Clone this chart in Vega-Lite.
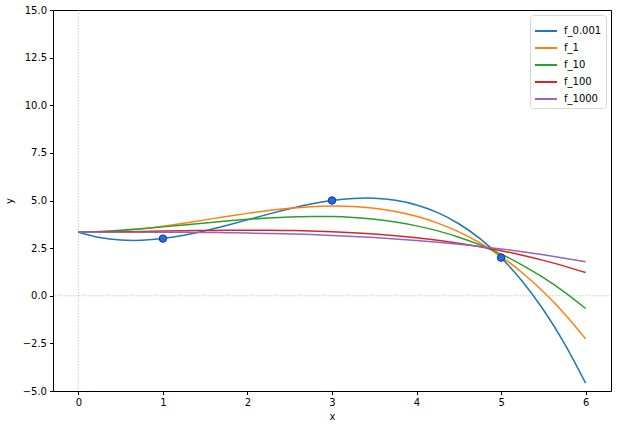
{
  "$schema": "https://vega.github.io/schema/vega-lite/v6.json",
  "width": 558,
  "height": 381,
  "autosize": {"type": "none"},
  "padding": {"left": 53, "top": 10, "right": 6, "bottom": 38},
  "background": "white",
  "datasets": {
    "curves": [
      {"x": 0, "a": 3.3333, "b": 3.3333, "c": 3.3333, "d": 3.3333, "e": 3.3333},
      {"x": 0.25, "a": 3.0564, "b": 3.3443, "c": 3.3728, "d": 3.3430, "e": 3.3342},
      {"x": 0.5, "a": 2.9219, "b": 3.4076, "c": 3.4368, "d": 3.3574, "e": 3.3349},
      {"x": 0.75, "a": 2.9098, "b": 3.5132, "c": 3.5197, "d": 3.3746, "e": 3.3347},
      {"x": 1, "a": 3.0, "b": 3.6510, "c": 3.6155, "d": 3.3930, "e": 3.3329},
      {"x": 1.25, "a": 3.1725, "b": 3.8110, "c": 3.7185, "d": 3.4106, "e": 3.3286},
      {"x": 1.5, "a": 3.4073, "b": 3.9832, "c": 3.8229, "d": 3.4257, "e": 3.3211},
      {"x": 1.75, "a": 3.6842, "b": 4.1576, "c": 3.9228, "d": 3.4366, "e": 3.3096},
      {"x": 2, "a": 3.9833, "b": 4.3241, "c": 4.0126, "d": 3.4413, "e": 3.2935},
      {"x": 2.25, "a": 4.2845, "b": 4.4727, "c": 4.0864, "d": 3.4381, "e": 3.2719},
      {"x": 2.5, "a": 4.5677, "b": 4.5934, "c": 4.1383, "d": 3.4251, "e": 3.2440},
      {"x": 2.75, "a": 4.8128, "b": 4.6761, "c": 4.1627, "d": 3.4007, "e": 3.2093},
      {"x": 3, "a": 5.0, "b": 4.7108, "c": 4.1536, "d": 3.3630, "e": 3.1667},
      {"x": 3.25, "a": 5.1090, "b": 4.6875, "c": 4.1054, "d": 3.3101, "e": 3.1157},
      {"x": 3.5, "a": 5.1198, "b": 4.5962, "c": 4.0121, "d": 3.2404, "e": 3.0555},
      {"x": 3.75, "a": 5.0124, "b": 4.4269, "c": 3.8681, "d": 3.1519, "e": 2.9853},
      {"x": 4, "a": 4.7667, "b": 4.1694, "c": 3.6674, "d": 3.0429, "e": 2.9043},
      {"x": 4.25, "a": 4.3626, "b": 3.8138, "c": 3.4044, "d": 2.9116, "e": 2.8118},
      {"x": 4.5, "a": 3.7802, "b": 3.3501, "c": 3.0731, "d": 2.7562, "e": 2.7071},
      {"x": 4.75, "a": 2.9993, "b": 2.7682, "c": 2.6679, "d": 2.5749, "e": 2.5894},
      {"x": 5, "a": 2.0, "b": 2.0581, "c": 2.1829, "d": 2.3658, "e": 2.4578},
      {"x": 5.25, "a": 0.7621, "b": 1.2098, "c": 1.6122, "d": 2.1272, "e": 2.3118},
      {"x": 5.5, "a": -0.7343, "b": 0.2132, "c": 0.9502, "d": 1.8574, "e": 2.1504},
      {"x": 5.75, "a": -2.5095, "b": -0.9416, "c": 0.1910, "d": 1.5544, "e": 1.9730},
      {"x": 6, "a": -4.5834, "b": -2.2648, "c": -0.6712, "d": 1.2164, "e": 1.7789}
    ],
    "points": [
      {"x": 1, "y": 3},
      {"x": 3, "y": 5},
      {"x": 5, "y": 2}
    ],
    "origin": [
      {"v": 0}
    ]
  },
  "layer": [
    {
      "data": {"name": "origin"},
      "mark": {"type": "rule", "color": "#aaaaaa", "strokeWidth": 0.6, "strokeDash": [1.5, 1.5]},
      "encoding": {"x": {"field": "v", "type": "quantitative"}}
    },
    {
      "data": {"name": "origin"},
      "mark": {"type": "rule", "color": "#aaaaaa", "strokeWidth": 0.6, "strokeDash": [1.5, 1.5]},
      "encoding": {"y": {"field": "v", "type": "quantitative"}}
    },
    {
      "data": {"name": "curves"},
      "transform": [
        {"fold": ["a", "b", "c", "d", "e"], "as": ["key", "y"]},
        {"lookup": "key", "from": {"data": {"values": [
          {"key": "a", "series": "f_0.001"},
          {"key": "b", "series": "f_1"},
          {"key": "c", "series": "f_10"},
          {"key": "d", "series": "f_100"},
          {"key": "e", "series": "f_1000"}
        ]}, "key": "key", "fields": ["series"]}}
      ],
      "mark": {"type": "line", "strokeWidth": 1.5, "interpolate": "natural", "clip": true},
      "encoding": {
        "x": {"field": "x", "type": "quantitative"},
        "y": {"field": "y", "type": "quantitative"},
        "detail": {"field": "key"},
        "color": {
          "field": "series",
          "type": "nominal",
          "scale": {
            "domain": ["f_0.001", "f_1", "f_10", "f_100", "f_1000"],
            "range": ["#1f77b4", "#ff7f0e", "#2ca02c", "#d62728", "#9467bd"]
          },
          "legend": {
            "title": null,
            "orient": "top-right",
            "offset": 5,
            "padding": 4,
            "strokeColor": "#d8d8d8",
            "cornerRadius": 3,
            "fillColor": "white",
            "symbolType": "M-1,0L1,0",
            "symbolSize": 484,
            "symbolStrokeWidth": 2,
            "labelFont": "DejaVu Sans",
            "labelFontSize": 10,
            "labelColor": "black",
            "labelOffset": 6,
            "rowPadding": 0
          }
        }
      }
    },
    {
      "data": {"name": "points"},
      "mark": {"type": "point", "filled": true, "size": 55, "fill": "#1f77b4", "stroke": "#0a1eff", "strokeWidth": 1, "opacity": 1},
      "encoding": {
        "x": {"field": "x", "type": "quantitative", "scale": {"domain": [-0.3, 6.3], "nice": false, "zero": false}, "axis": {"title": "x", "values": [0, 1, 2, 3, 4, 5, 6], "format": "d"}},
        "y": {"field": "y", "type": "quantitative", "scale": {"domain": [-5, 15], "nice": false, "zero": false}, "axis": {"title": "y", "values": [-5, -2.5, 0, 2.5, 5, 7.5, 10, 12.5, 15], "format": ".1f"}}
      }
    }
  ],
  "config": {
    "view": {"stroke": "black", "strokeWidth": 1},
    "font": "DejaVu Sans",
    "axis": {
      "grid": false,
      "domain": false,
      "ticks": true,
      "tickColor": "black",
      "tickSize": 3.5,
      "labelFont": "DejaVu Sans",
      "labelFontSize": 10,
      "labelColor": "black",
      "titleFont": "DejaVu Sans",
      "titleFontSize": 10,
      "titleFontWeight": "normal",
      "titleColor": "black"
    },
    "axisX": {
      "labelPadding": 3,
      "titlePadding": 4
    },
    "axisY": {
      "labelPadding": 3,
      "titlePadding": 8
    }
  }
}
